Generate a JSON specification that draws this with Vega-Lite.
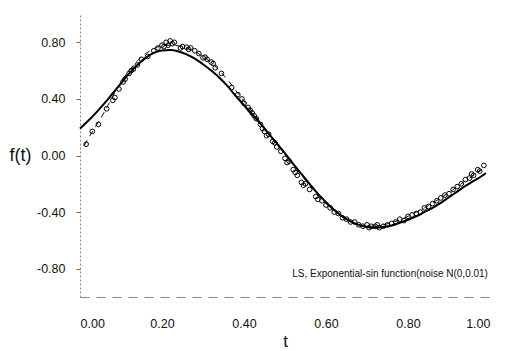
{
  "$schema": "https://vega.github.io/schema/vega-lite/v6.json",
  "autosize": {"type": "none"},
  "padding": {"left": 80, "top": 14, "right": 21, "bottom": 54},
  "width": 410,
  "height": 283,
  "background": "white",
  "config": {
    "view": {"stroke": null},
    "font": "Liberation Sans",
    "locale": {"number": {"decimal": ".", "thousands": ",", "grouping": [3], "currency": ["$", ""], "minus": "-"}},
    "axis": {"labelFont": "Liberation Sans", "titleFont": "Liberation Sans", "labelColor": "#111", "titleColor": "#111", "grid": false}
  },
  "datasets": {
    "truth": [
      {"t": 0.00, "v": 0.19}, {"t": 0.02, "v": 0.245}, {"t": 0.04, "v": 0.305}, {"t": 0.06, "v": 0.37},
      {"t": 0.08, "v": 0.44}, {"t": 0.10, "v": 0.51}, {"t": 0.12, "v": 0.58}, {"t": 0.14, "v": 0.64},
      {"t": 0.16, "v": 0.69}, {"t": 0.18, "v": 0.725}, {"t": 0.20, "v": 0.742}, {"t": 0.22, "v": 0.745},
      {"t": 0.24, "v": 0.735}, {"t": 0.26, "v": 0.715}, {"t": 0.28, "v": 0.685}, {"t": 0.30, "v": 0.645},
      {"t": 0.32, "v": 0.60}, {"t": 0.34, "v": 0.55}, {"t": 0.36, "v": 0.49}, {"t": 0.38, "v": 0.42},
      {"t": 0.40, "v": 0.355}, {"t": 0.42, "v": 0.29}, {"t": 0.44, "v": 0.225}, {"t": 0.46, "v": 0.155},
      {"t": 0.48, "v": 0.085}, {"t": 0.50, "v": 0.015}, {"t": 0.52, "v": -0.06}, {"t": 0.54, "v": -0.13},
      {"t": 0.56, "v": -0.20}, {"t": 0.58, "v": -0.27}, {"t": 0.60, "v": -0.33}, {"t": 0.62, "v": -0.385},
      {"t": 0.64, "v": -0.43}, {"t": 0.66, "v": -0.465}, {"t": 0.68, "v": -0.49}, {"t": 0.70, "v": -0.505},
      {"t": 0.72, "v": -0.51}, {"t": 0.74, "v": -0.505}, {"t": 0.76, "v": -0.495}, {"t": 0.78, "v": -0.475},
      {"t": 0.80, "v": -0.455}, {"t": 0.82, "v": -0.43}, {"t": 0.84, "v": -0.40}, {"t": 0.86, "v": -0.37},
      {"t": 0.88, "v": -0.335}, {"t": 0.90, "v": -0.295}, {"t": 0.92, "v": -0.255}, {"t": 0.94, "v": -0.215},
      {"t": 0.96, "v": -0.18}, {"t": 0.98, "v": -0.145}, {"t": 0.99, "v": -0.125}
    ],
    "fit": [
      {"t": 0.01, "v": 0.07}, {"t": 0.02, "v": 0.12}, {"t": 0.04, "v": 0.215}, {"t": 0.06, "v": 0.31},
      {"t": 0.08, "v": 0.42}, {"t": 0.10, "v": 0.52}, {"t": 0.12, "v": 0.60}, {"t": 0.14, "v": 0.67},
      {"t": 0.16, "v": 0.72}, {"t": 0.18, "v": 0.755}, {"t": 0.20, "v": 0.775}, {"t": 0.22, "v": 0.78},
      {"t": 0.24, "v": 0.775}, {"t": 0.26, "v": 0.76}, {"t": 0.28, "v": 0.735}, {"t": 0.30, "v": 0.70},
      {"t": 0.32, "v": 0.655}, {"t": 0.34, "v": 0.60}, {"t": 0.36, "v": 0.535}, {"t": 0.38, "v": 0.46},
      {"t": 0.40, "v": 0.385}, {"t": 0.42, "v": 0.31}, {"t": 0.44, "v": 0.235}, {"t": 0.46, "v": 0.16},
      {"t": 0.48, "v": 0.085}, {"t": 0.50, "v": 0.01}, {"t": 0.52, "v": -0.065}, {"t": 0.54, "v": -0.14},
      {"t": 0.56, "v": -0.21}, {"t": 0.58, "v": -0.28}, {"t": 0.60, "v": -0.34}, {"t": 0.62, "v": -0.39},
      {"t": 0.64, "v": -0.435}, {"t": 0.66, "v": -0.47}, {"t": 0.68, "v": -0.49}, {"t": 0.70, "v": -0.50},
      {"t": 0.72, "v": -0.50}, {"t": 0.74, "v": -0.49}, {"t": 0.76, "v": -0.475}, {"t": 0.78, "v": -0.455},
      {"t": 0.80, "v": -0.43}, {"t": 0.82, "v": -0.40}, {"t": 0.84, "v": -0.37}, {"t": 0.86, "v": -0.335},
      {"t": 0.88, "v": -0.30}, {"t": 0.90, "v": -0.26}, {"t": 0.92, "v": -0.22}, {"t": 0.94, "v": -0.18},
      {"t": 0.96, "v": -0.14}, {"t": 0.98, "v": -0.10}
    ],
    "obs": [
      {"t": 0.015, "v": 0.08}, {"t": 0.03, "v": 0.17}, {"t": 0.045, "v": 0.22}, {"t": 0.065, "v": 0.33},
      {"t": 0.08, "v": 0.39}, {"t": 0.085, "v": 0.41}, {"t": 0.095, "v": 0.47}, {"t": 0.105, "v": 0.52},
      {"t": 0.11, "v": 0.54}, {"t": 0.12, "v": 0.58}, {"t": 0.125, "v": 0.60}, {"t": 0.13, "v": 0.61},
      {"t": 0.14, "v": 0.64}, {"t": 0.15, "v": 0.68}, {"t": 0.165, "v": 0.70}, {"t": 0.18, "v": 0.74},
      {"t": 0.19, "v": 0.76}, {"t": 0.20, "v": 0.78}, {"t": 0.205, "v": 0.77}, {"t": 0.21, "v": 0.80},
      {"t": 0.215, "v": 0.78}, {"t": 0.22, "v": 0.81}, {"t": 0.225, "v": 0.79}, {"t": 0.23, "v": 0.80},
      {"t": 0.245, "v": 0.76}, {"t": 0.25, "v": 0.77}, {"t": 0.26, "v": 0.765}, {"t": 0.265, "v": 0.75},
      {"t": 0.27, "v": 0.76}, {"t": 0.28, "v": 0.74}, {"t": 0.29, "v": 0.72}, {"t": 0.30, "v": 0.69},
      {"t": 0.305, "v": 0.695}, {"t": 0.31, "v": 0.68}, {"t": 0.32, "v": 0.66}, {"t": 0.325, "v": 0.65},
      {"t": 0.33, "v": 0.62}, {"t": 0.345, "v": 0.58}, {"t": 0.37, "v": 0.48}, {"t": 0.385, "v": 0.43},
      {"t": 0.395, "v": 0.40}, {"t": 0.40, "v": 0.37}, {"t": 0.41, "v": 0.34}, {"t": 0.415, "v": 0.32},
      {"t": 0.42, "v": 0.30}, {"t": 0.425, "v": 0.28}, {"t": 0.43, "v": 0.26}, {"t": 0.44, "v": 0.22},
      {"t": 0.445, "v": 0.19}, {"t": 0.45, "v": 0.17}, {"t": 0.455, "v": 0.14}, {"t": 0.46, "v": 0.15},
      {"t": 0.47, "v": 0.10}, {"t": 0.475, "v": 0.09}, {"t": 0.48, "v": 0.06}, {"t": 0.49, "v": 0.03},
      {"t": 0.50, "v": -0.02}, {"t": 0.505, "v": -0.05}, {"t": 0.51, "v": -0.04}, {"t": 0.52, "v": -0.10},
      {"t": 0.525, "v": -0.12}, {"t": 0.53, "v": -0.14}, {"t": 0.54, "v": -0.19}, {"t": 0.545, "v": -0.21},
      {"t": 0.55, "v": -0.20}, {"t": 0.56, "v": -0.24}, {"t": 0.575, "v": -0.29}, {"t": 0.58, "v": -0.31},
      {"t": 0.59, "v": -0.32}, {"t": 0.60, "v": -0.35}, {"t": 0.61, "v": -0.37}, {"t": 0.62, "v": -0.40},
      {"t": 0.63, "v": -0.41}, {"t": 0.64, "v": -0.44}, {"t": 0.65, "v": -0.45}, {"t": 0.66, "v": -0.47},
      {"t": 0.67, "v": -0.47}, {"t": 0.68, "v": -0.49}, {"t": 0.69, "v": -0.50}, {"t": 0.70, "v": -0.49},
      {"t": 0.705, "v": -0.51}, {"t": 0.71, "v": -0.50}, {"t": 0.72, "v": -0.50}, {"t": 0.725, "v": -0.49},
      {"t": 0.73, "v": -0.51}, {"t": 0.74, "v": -0.50}, {"t": 0.75, "v": -0.49}, {"t": 0.76, "v": -0.48},
      {"t": 0.77, "v": -0.47}, {"t": 0.78, "v": -0.45}, {"t": 0.79, "v": -0.46}, {"t": 0.80, "v": -0.43},
      {"t": 0.81, "v": -0.42}, {"t": 0.82, "v": -0.41}, {"t": 0.83, "v": -0.40}, {"t": 0.84, "v": -0.37},
      {"t": 0.85, "v": -0.36}, {"t": 0.86, "v": -0.34}, {"t": 0.87, "v": -0.32}, {"t": 0.88, "v": -0.30},
      {"t": 0.89, "v": -0.28}, {"t": 0.90, "v": -0.27}, {"t": 0.91, "v": -0.24}, {"t": 0.92, "v": -0.22},
      {"t": 0.93, "v": -0.20}, {"t": 0.94, "v": -0.17}, {"t": 0.95, "v": -0.16}, {"t": 0.955, "v": -0.13},
      {"t": 0.96, "v": -0.14}, {"t": 0.97, "v": -0.10}, {"t": 0.975, "v": -0.11}, {"t": 0.985, "v": -0.07}
    ],
    "note": [{"t": 0.995, "v": -0.84, "label": "LS, Exponential-sin function(noise N(0,0.01)"}]
  },
  "layer": [
    {
      "data": {"name": "truth"},
      "mark": {"type": "line", "color": "#000", "strokeWidth": 2, "interpolate": "monotone"},
      "encoding": {
        "x": {
          "field": "t", "type": "quantitative",
          "scale": {"domain": [0, 1], "nice": false, "zero": false},
          "axis": {
            "values": [0, 0.2, 0.4, 0.6, 0.8, 1.0], "format": ".2f", "title": "t",
            "ticks": false, "labelPadding": 20, "labelFontSize": 12.5,
            "domainColor": "#888", "domainWidth": 1, "domainDash": [9, 7],
            "titleFontSize": 17, "titleFontWeight": "normal", "titleY": 44, "titleBaseline": "middle"
          }
        },
        "y": {
          "field": "v", "type": "quantitative",
          "scale": {"domain": [-1, 1], "nice": false, "zero": false},
          "axis": {
            "values": [-0.8, -0.4, 0, 0.4, 0.8],
            "format": ".2f",
            "title": "f(t)", "titleAngle": 0, "titleX": -60, "titleY": 141.5, "titleAlign": "center",
            "titleBaseline": "middle", "titleFontSize": 18, "titleFontWeight": "normal",
            "labelFontSize": 12.5, "labelPadding": 11, "tickSize": 4, "tickColor": "#666", "tickWidth": 1,
            "domainColor": "#888", "domainWidth": 1, "domainDash": [2, 2]
          }
        }
      }
    },
    {
      "data": {"name": "fit"},
      "mark": {"type": "line", "color": "#111", "strokeWidth": 1, "strokeDash": [6, 5], "interpolate": "monotone"},
      "encoding": {
        "x": {"field": "t", "type": "quantitative"},
        "y": {"field": "v", "type": "quantitative"}
      }
    },
    {
      "data": {"name": "obs"},
      "mark": {"type": "point", "shape": "circle", "filled": false, "size": 22, "stroke": "#000", "strokeWidth": 1, "opacity": 1},
      "encoding": {
        "x": {"field": "t", "type": "quantitative"},
        "y": {"field": "v", "type": "quantitative"}
      }
    },
    {
      "data": {"name": "note"},
      "mark": {"type": "text", "align": "right", "baseline": "middle", "fontSize": 10, "color": "#111", "font": "Liberation Sans"},
      "encoding": {
        "x": {"field": "t", "type": "quantitative"},
        "y": {"field": "v", "type": "quantitative"},
        "text": {"field": "label"}
      }
    }
  ]
}
